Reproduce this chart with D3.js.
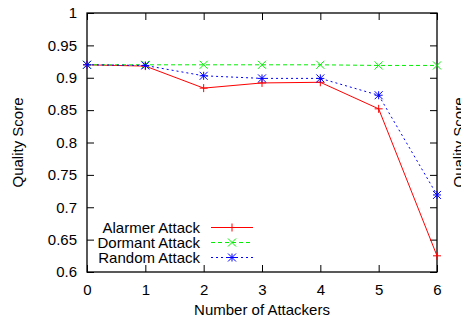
<!DOCTYPE html>
<html>
<head>
<meta charset="utf-8">
<script src="https://cdn.jsdelivr.net/npm/d3@7"></script>
<style>
  body { margin: 0; background: #fff; }
  svg { display: block; font-family: "Liberation Sans", Arial, sans-serif; }
</style>
</head>
<body>
<div id="chart"></div>
<script>
// attackers on x, quality score on y
var attackers = [0, 1, 2, 3, 4, 5, 6];
var alarmer = [0.920, 0.918, 0.884, 0.892, 0.893, 0.852, 0.625];
var dormant = [0.920, 0.920, 0.920, 0.920, 0.920, 0.919, 0.919];
var random  = [0.920, 0.919, 0.903, 0.899, 0.899, 0.873, 0.719];
var seriesNames = ["Alarmer Attack", "Dormant Attack", "Random Attack"];
var yTicks = [0.6, 0.65, 0.7, 0.75, 0.8, 0.85, 0.9, 0.95, 1];

var W = 461, H = 320;
var mLeft = 87, mRight = 437, mTop = 13, mBottom = 272;
var fs = 15;

var svg = d3.select("#chart").append("svg")
  .attr("width", W).attr("height", H);

var x = d3.scaleLinear().domain([0, 6]).range([mLeft, mRight]);
var y = d3.scaleLinear().domain([0.6, 1]).range([mBottom, mTop]);

var tickLen = 7;

// axes, ticks pointing in, mirrored on top/right
svg.append("g").attr("transform", "translate(0," + mBottom + ")")
  .call(d3.axisBottom(x).tickValues(attackers).tickSize(-tickLen).tickPadding(12).tickFormat(d3.format("d")));
svg.append("g").attr("transform", "translate(0," + mTop + ")")
  .call(d3.axisTop(x).tickValues(attackers).tickSize(-tickLen).tickFormat(""));
svg.append("g").attr("transform", "translate(" + mLeft + ",0)")
  .call(d3.axisLeft(y).tickValues(yTicks).tickSize(-tickLen).tickPadding(10).tickFormat(d3.format("")));
svg.append("g").attr("transform", "translate(" + mRight + ",0)")
  .call(d3.axisRight(y).tickValues(yTicks).tickSize(-tickLen).tickFormat(""));

svg.selectAll(".domain").remove();
svg.selectAll(".tick line").attr("stroke", "#000").attr("stroke-width", 1);
svg.selectAll(".tick text").attr("font-size", fs).attr("fill", "#000")
  .attr("font-family", "Liberation Sans, Arial, sans-serif");

svg.append("rect")
  .attr("x", mLeft).attr("y", mTop)
  .attr("width", mRight - mLeft).attr("height", mBottom - mTop)
  .attr("fill", "none").attr("stroke", "#000").attr("stroke-width", 1.3);

// axis titles
svg.append("text")
  .attr("transform", "translate(23," + ((mTop + mBottom) / 2) + ") rotate(-90)")
  .attr("text-anchor", "middle").attr("font-size", fs).text("Quality Score");
svg.append("text")
  .attr("transform", "translate(464," + ((mTop + mBottom) / 2) + ") rotate(-90)")
  .attr("text-anchor", "middle").attr("font-size", fs).text("Quality Score");
svg.append("text")
  .attr("x", (mLeft + mRight) / 2).attr("y", 315)
  .attr("text-anchor", "middle").attr("font-size", fs).text("Number of Attackers");

// marker drawing
function marker(g, type, cx, cy, color) {
  var s = 4;
  var p = "";
  if (type === "plus" || type === "star")
    p += "M" + (cx - s) + "," + cy + "H" + (cx + s) + "M" + cx + "," + (cy - s) + "V" + (cy + s);
  if (type === "cross" || type === "star")
    p += "M" + (cx - s) + "," + (cy - s) + "L" + (cx + s) + "," + (cy + s) +
         "M" + (cx - s) + "," + (cy + s) + "L" + (cx + s) + "," + (cy - s);
  g.append("path").attr("d", p).attr("stroke", color).attr("stroke-width", 1).attr("fill", "none");
}

var series = [
  { name: seriesNames[0], values: alarmer, color: "#ff0000", dash: null, mark: "plus" },
  { name: seriesNames[1], values: dormant, color: "#00ee00", dash: "4,3", mark: "cross" },
  { name: seriesNames[2], values: random,  color: "#0000ff", dash: "2,3", mark: "star" }
];

var line = d3.line().x(function (d, i) { return x(attackers[i]); }).y(function (d) { return y(d); });

series.forEach(function (s) {
  var g = svg.append("g");
  g.append("path").datum(s.values)
    .attr("d", line).attr("fill", "none")
    .attr("stroke", s.color).attr("stroke-width", 1)
    .attr("stroke-dasharray", s.dash);
  s.values.forEach(function (v, i) { marker(g, s.mark, x(attackers[i]), y(v), s.color); });
});

// legend
var legY = 227.5, legStep = 15;
series.forEach(function (s, i) {
  var yy = legY + i * legStep;
  var g = svg.append("g");
  g.append("text").attr("x", 200).attr("y", yy).attr("dy", "0.35em")
    .attr("text-anchor", "end").attr("font-size", fs).text(s.name);
  g.append("line").attr("x1", 211).attr("x2", 253).attr("y1", yy).attr("y2", yy)
    .attr("stroke", s.color).attr("stroke-width", 1).attr("stroke-dasharray", s.dash);
  marker(g, s.mark, 232, yy, s.color);
});
</script>
</body>
</html>
